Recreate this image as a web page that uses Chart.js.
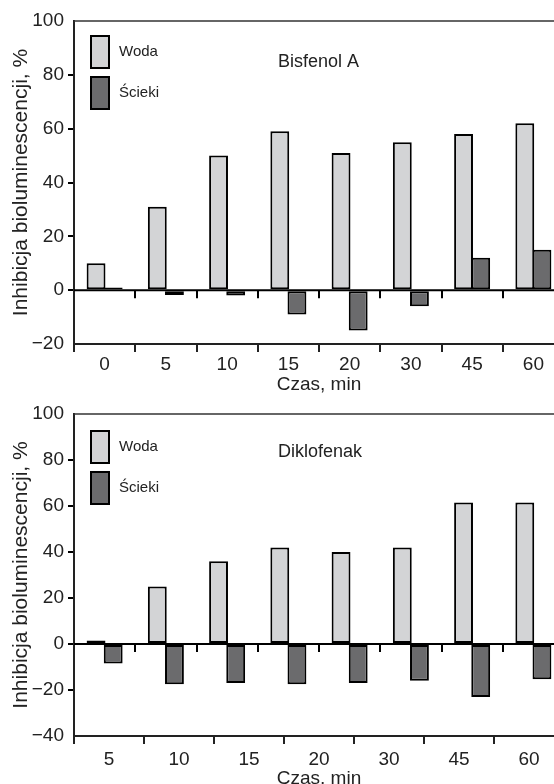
<!DOCTYPE html>
<html>
<head>
<meta charset="utf-8">
<script src="https://cdn.jsdelivr.net/npm/chart.js@4/dist/chart.umd.min.js"></script>
<style>
  html, body { margin: 0; padding: 0; background: #fff; width: 554px; height: 784px; overflow: hidden; }
  .box { position: absolute; left: 0; width: 566px; }
  #top-box { top: 0; height: 400px; }
  #bottom-box { top: 390px; height: 404px; }
</style>
</head>
<body>
<div class="box" id="top-box"><canvas id="bisfenol-chart"></canvas></div>
<div class="box" id="bottom-box"><canvas id="diklofenak-chart"></canvas></div>
<script>
// time points (min) for the bar groups
const timePoints = ['0', '5', '10', '15', '20', '30', '45', '60'];
// labels printed under the lower chart
const diclofenacAxisLabels = ['5', '10', '15', '20', '30', '45', '60'];
const seriesNames = ['Woda', 'Ścieki'];

const bisphenolWater = [10, 31, 50, 59, 51, 55, 58, 62];
const bisphenolSewage = [1, -1.8, -2, -9, -15, -6, 12, 15];
const diclofenacWater = [1.5, 25, 36, 42, 40, 42, 61.5, 61.5];
const diclofenacSewage = [-8.5, -17.5, -17, -17.5, -17, -16, -23, -15.3];

const FONT = '"Liberation Sans", Arial, Helvetica, sans-serif';
Chart.defaults.font.family = FONT;
Chart.defaults.color = '#222';

// zero line with its ticks, top frame, in-plot title and legend
const decorations = {
  id: 'decorations',
  afterDatasetsDraw(chart, args, opts) {
    const { ctx, chartArea: a } = chart;
    const xs = chart.scales.x;
    const y0 = chart.scales.y.getPixelForValue(0);
    const line = (x1, y1, x2, y2) => {
      ctx.beginPath();
      ctx.moveTo(x1, y1);
      ctx.lineTo(x2, y2);
      ctx.stroke();
    };
    ctx.save();
    ctx.strokeStyle = '#333';
    ctx.lineWidth = 1.5;
    line(a.left, a.top, a.right, a.top);

    ctx.strokeStyle = '#000';
    ctx.lineWidth = 2;
    line(a.left, y0, a.right, y0);
    const n = chart.data.labels.length;
    for (let i = 1; i < n; i++) {
      const bx = Math.round((xs.getPixelForValue(i - 1) + xs.getPixelForValue(i)) / 2);
      line(bx, y0, bx, y0 + 8);
    }

    ctx.fillStyle = '#222';
    ctx.textBaseline = 'middle';
    ctx.textAlign = 'left';
    ctx.font = '18px ' + FONT;
    ctx.fillText(opts.label, a.left + 204, a.top + opts.labelDy);

    chart.data.datasets.forEach((ds, i) => {
      const bx = a.left + 17;
      const by = a.top + opts.legendTop + i * 41;
      ctx.fillStyle = ds.backgroundColor;
      ctx.fillRect(bx, by, 18, 32);
      ctx.strokeStyle = '#000';
      ctx.lineWidth = 2;
      ctx.strokeRect(bx, by, 18, 32);
      ctx.fillStyle = '#222';
      ctx.font = '15px ' + FONT;
      ctx.fillText(ds.label, bx + 28, by + 16);
    });
    ctx.restore();
  }
};

function makeDatasets(water, sewage) {
  const common = {
    borderColor: '#000',
    borderWidth: 2,
    borderSkipped: false,
    categoryPercentage: 0.56,
    barPercentage: 1.1
  };
  return [
    Object.assign({ label: seriesNames[0], data: water, backgroundColor: '#d3d4d6' }, common),
    Object.assign({ label: seriesNames[1], data: sewage, backgroundColor: '#6b6b6d' }, common)
  ];
}

function yScale(min) {
  return {
    min: min,
    max: 100,
    afterFit(scale) { scale.width = 74; },
    ticks: {
      stepSize: 20,
      padding: 4,
      font: { size: 19 },
      color: '#222',
      callback: v => (v < 0 ? '\u2212' + Math.abs(v) : String(v))
    },
    grid: {
      drawOnChartArea: false,
      tickLength: 6,
      lineWidth: 2,
      color: c => (c.tick && (c.tick.value === min || c.tick.value === 100)) ? 'rgba(0,0,0,0)' : '#000'
    },
    border: { color: '#222', width: 2 },
    title: {
      display: true,
      text: 'Inhibicja bioluminescencji, %',
      font: { size: 21 },
      color: '#222',
      padding: { top: 9, bottom: 0 }
    }
  };
}

function xAxis(labels, height, labelPad) {
  return {
    type: 'category',
    labels: labels,
    position: 'bottom',
    offset: true,
    afterFit(scale) { scale.height = height; },
    ticks: { font: { size: 19 }, color: '#222', padding: labelPad, maxRotation: 0, autoSkip: false },
    grid: { offset: true, drawOnChartArea: false, tickLength: 8, lineWidth: 2, color: '#222' },
    border: { color: '#222', width: 2 },
    title: {
      display: true,
      text: 'Czas, min',
      font: { size: 19 },
      color: '#222',
      padding: { top: 0, bottom: 4 }
    }
  };
}

const commonOptions = {
  responsive: true,
  maintainAspectRatio: false,
  animation: false,
  events: []
};

new Chart(document.getElementById('bisfenol-chart'), {
  type: 'bar',
  data: { labels: timePoints, datasets: makeDatasets(bisphenolWater, bisphenolSewage) },
  options: Object.assign({}, commonOptions, {
    layout: { padding: { top: 21, right: 2, left: 0, bottom: 0 } },
    plugins: {
      legend: { display: false },
      tooltip: { enabled: false },
      decorations: { label: 'Bisfenol A', labelDy: 41, legendTop: 15 }
    },
    scales: {
      x: xAxis(timePoints, 56, 1),
      y: yScale(-20)
    }
  }),
  plugins: [decorations]
});

new Chart(document.getElementById('diklofenak-chart'), {
  type: 'bar',
  data: { labels: timePoints, datasets: makeDatasets(diclofenacWater, diclofenacSewage) },
  options: Object.assign({}, commonOptions, {
    layout: { padding: { top: 24, right: 2, left: 0, bottom: 0 } },
    plugins: {
      legend: { display: false },
      tooltip: { enabled: false },
      decorations: { label: 'Diklofenak', labelDy: 38, legendTop: 17 }
    },
    scales: {
      x: { type: 'category', display: false, offset: true },
      x2: xAxis(diclofenacAxisLabels, 58, 4),
      y: yScale(-40)
    }
  }),
  plugins: [decorations]
});
</script>
</body>
</html>
